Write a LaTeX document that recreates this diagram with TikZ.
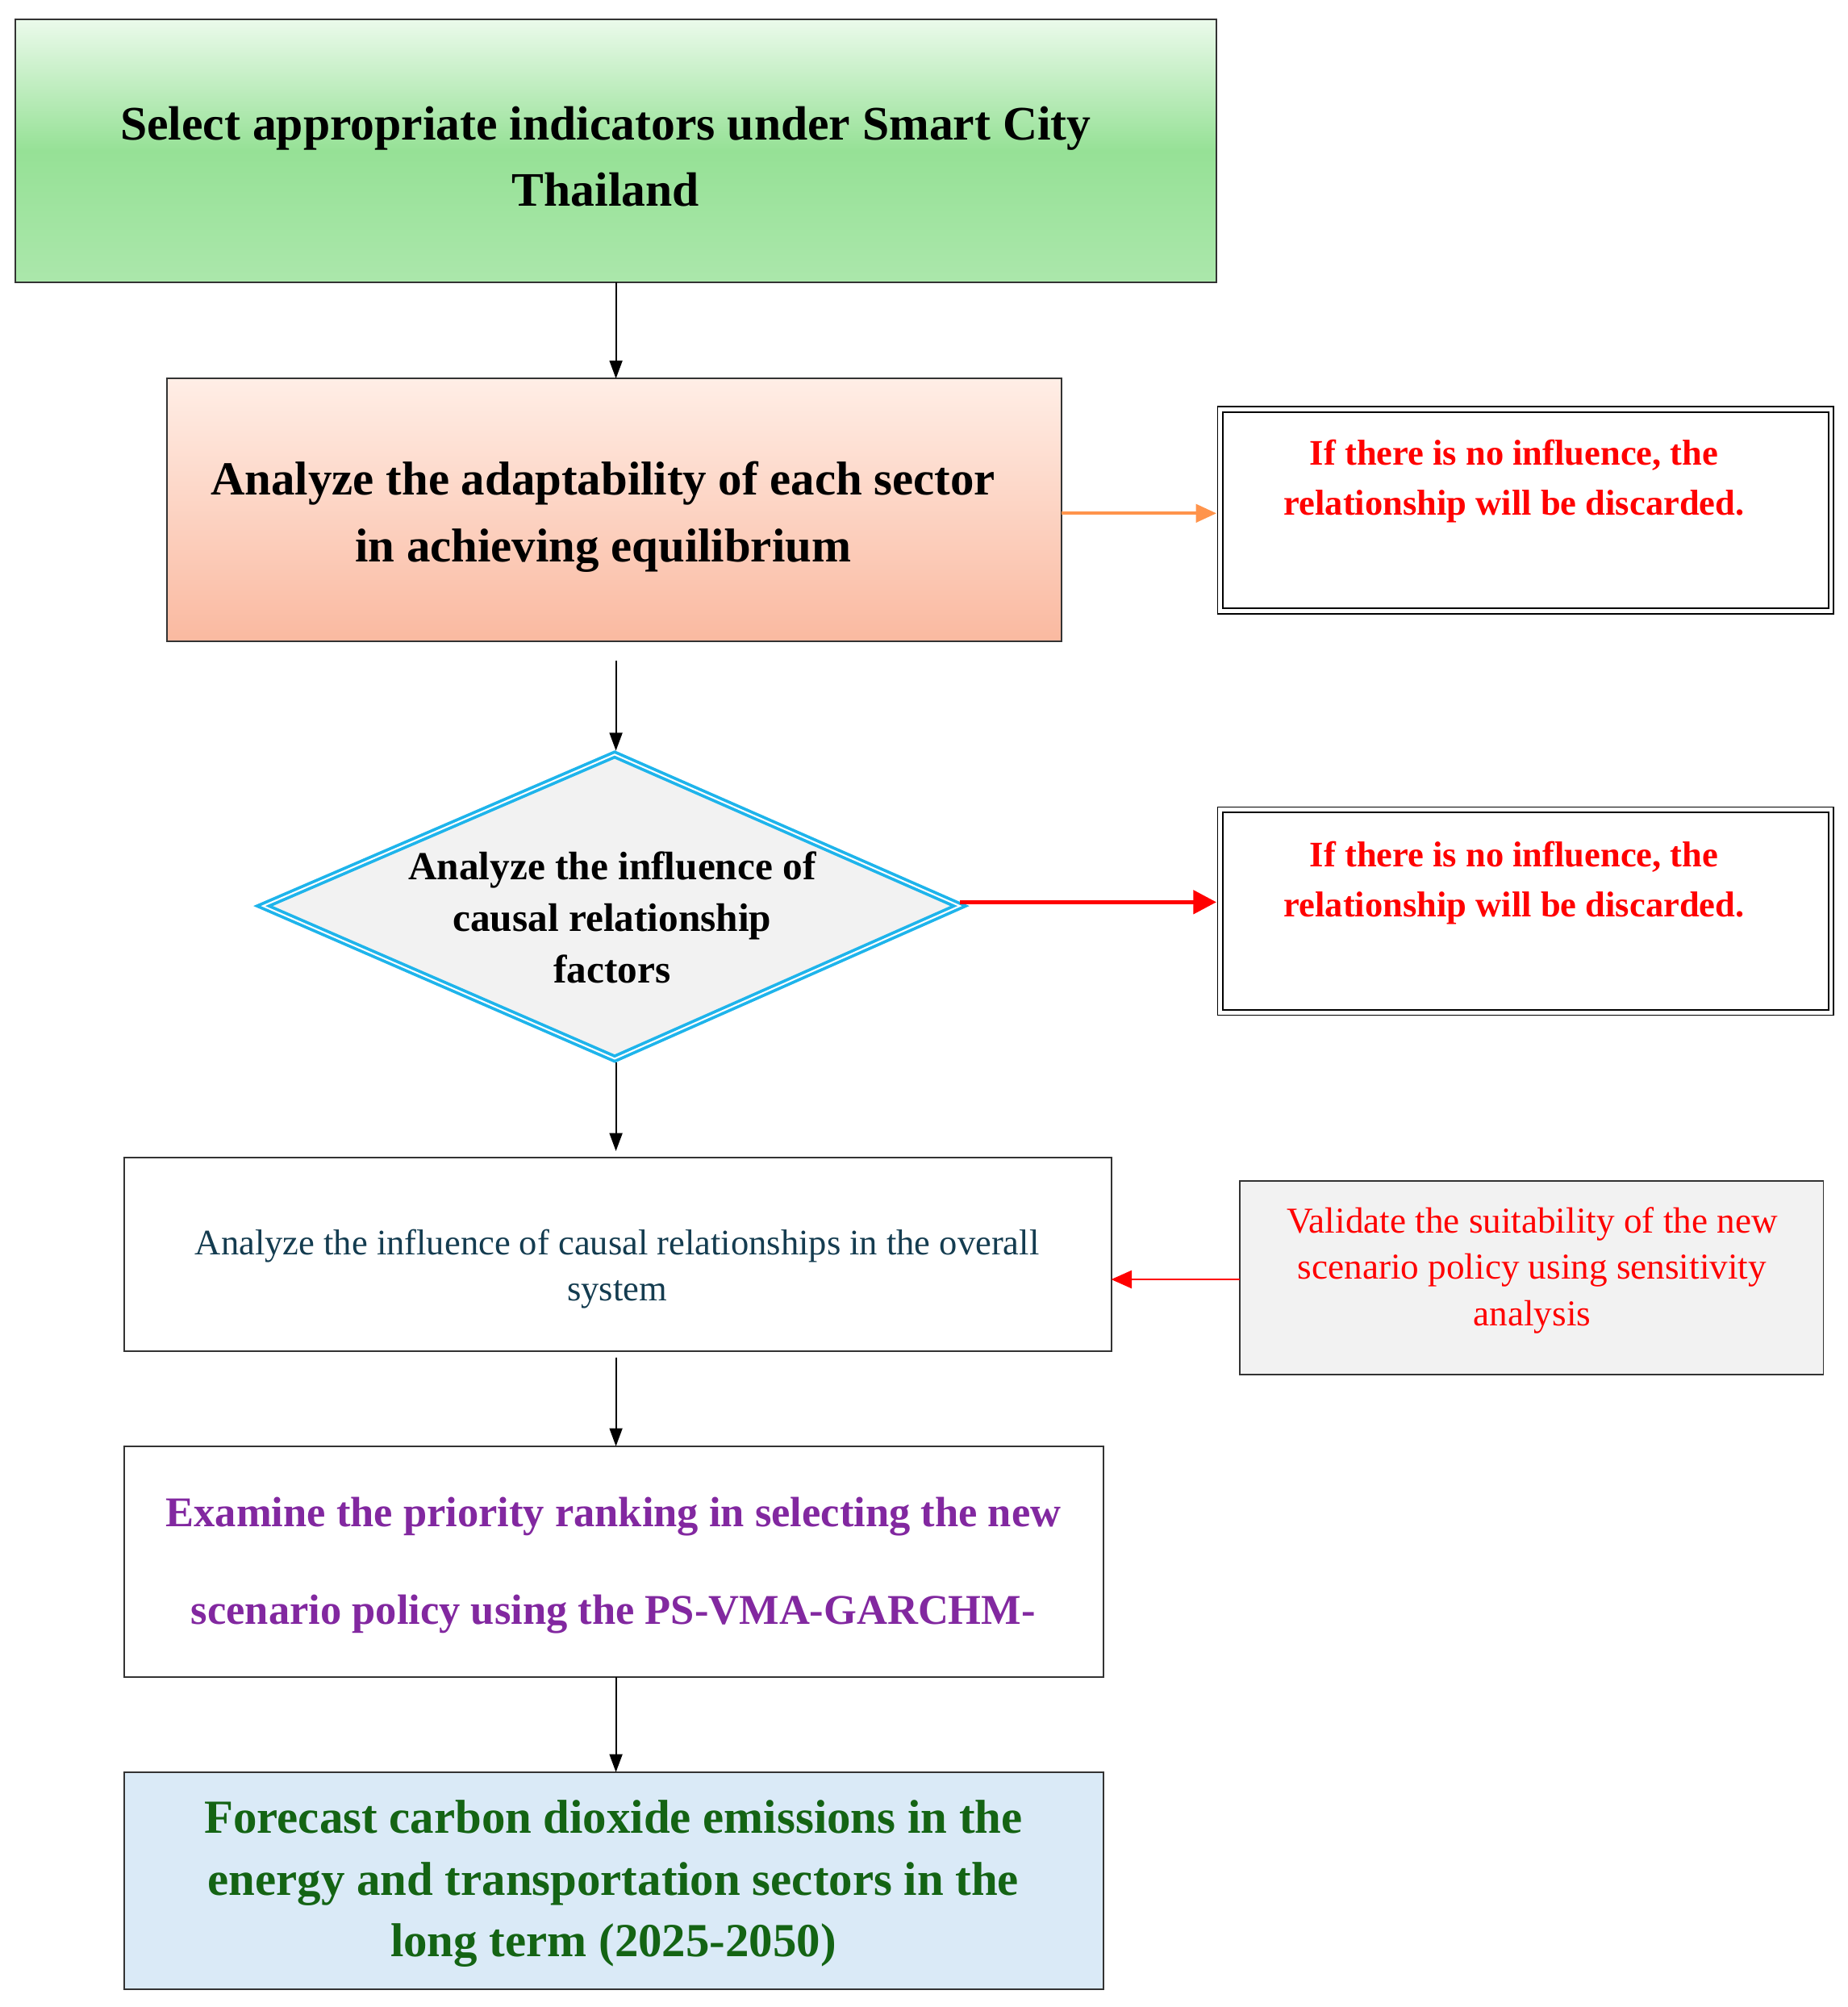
\documentclass[tikz,border=0pt]{standalone}
\usepackage{fontspec}
\setmainfont{Liberation Serif}
\usetikzlibrary{arrows.meta,shapes.geometric}
\definecolor{lblue}{RGB}{218,234,247}
\definecolor{dteal}{RGB}{20,60,80}
\definecolor{purp}{RGB}{130,40,160}
\definecolor{dgreen}{RGB}{20,100,20}
\definecolor{gtop}{RGB}{235,250,235}
\definecolor{gmid}{RGB}{150,225,150}
\definecolor{stop}{RGB}{255,238,230}
\definecolor{sbot}{RGB}{250,185,160}
\definecolor{cyanb}{RGB}{30,180,235}
\begin{document}
\begin{tikzpicture}[x=1pt,y=-1pt,
  box/.style={draw=black!80,line width=1.2pt,inner sep=0},
  arr/.style={-{Triangle[length=14pt,width=10pt]},line width=1.3pt},
  redbox/.style={draw=black,double,double distance=3pt,line width=1.2pt,fill=white}]
\useasboundingbox (0,0) rectangle (1440,1564);
% box1
\shade[top color=gtop,bottom color=gmid!80!white,middle color=gmid] (12,15) rectangle (948,220);
\draw[box] (12,15) rectangle (948,220);
\node[align=center,font=\fontsize{37.5}{52}\selectfont\bfseries] (b1) at (472,122) {Select appropriate indicators under Smart City\\Thailand};
\coordinate (b1s) at (480,220);
% box2
\shade[top color=stop,bottom color=sbot] (130,295) rectangle (827,500);
\draw[box] (130,295) rectangle (827,500);
\node[align=center,font=\fontsize{37}{52}\selectfont\bfseries] (b2) at (470,403) {Analyze the adaptability of each sector\\in achieving equilibrium};
\coordinate (b2n) at (480,295);
\coordinate (b2e) at (827,400);
\coordinate (b2s) at (480,515);
% red box 1
\draw[redbox] (951,319) rectangle (1427,476);
\node[align=center,text=red,font=\fontsize{28}{39}\selectfont\bfseries] (r1) at (1180,375) {If there is no influence, the\\relationship will be discarded.};
\coordinate (r1w) at (948,400);
% diamond
\draw[draw=cyanb,line width=6pt,fill=black!5] (205,706) -- (479,588) -- (748,706) -- (479,825) -- cycle;
\draw[white,line width=1.3pt] (205,706) -- (479,588) -- (748,706) -- (479,825) -- cycle;
\node[align=center,font=\fontsize{31}{40}\selectfont\bfseries] (d) at (477,715) {Analyze the influence of\\causal relationship\\factors};
\coordinate (dn) at (480,585);
\coordinate (de) at (748,703);
\coordinate (ds) at (480,828);
% red box 2
\draw[redbox] (951,631) rectangle (1427,789);
\node[align=center,text=red,font=\fontsize{28}{39}\selectfont\bfseries] (r2) at (1180,688) {If there is no influence, the\\relationship will be discarded.};
\coordinate (r2w) at (948,703);
% box4
\draw[box,fill=white] (97,902) rectangle (866,1053);
\node[align=center,text=dteal,font=\fontsize{28}{36}\selectfont] (b4) at (481,989) {Analyze the influence of causal relationships in the overall\\system};
\coordinate (b4n) at (480,897);
\coordinate (b4e) at (866,997);
\coordinate (b4s) at (480,1058);
% gray box
\draw[box,fill=black!5] (966,920) rectangle (1421,1071);
\node[align=center,text=red,font=\fontsize{28.4}{36}\selectfont] (g) at (1194,990) {Validate the suitability of the new\\scenario policy using sensitivity\\analysis};
\coordinate (gw) at (966,997);
% box5
\draw[box,fill=white] (97,1127) rectangle (860,1307);
\node[align=center,text=purp,font=\fontsize{33}{76}\selectfont\bfseries] (b5) at (478,1220) {Examine the priority ranking in selecting the new\\scenario policy using the PS-VMA-GARCHM-};
\coordinate (b5n) at (480,1127);
\coordinate (b5s) at (480,1307);
% box6
\draw[box,fill=lblue] (97,1381) rectangle (860,1550);
\node[align=center,text=dgreen,font=\fontsize{37}{48}\selectfont\bfseries] (b6) at (478,1468) {Forecast carbon dioxide emissions in the\\energy and transportation sectors in the\\long term (2025-2050)};
\coordinate (b6n) at (480,1381);
% connectors
\draw[arr] (b1s) -- (b2n);
\draw[orange!80!red!70,line width=2.5pt,-{Triangle[length=16pt,width=14pt]}] (b2e) -- (r1w);
\draw[arr] (b2s) -- (dn);
\draw[red,line width=3.5pt,-{Triangle[length=18pt,width=18pt]}] (de) -- (r2w);
\draw[arr] (ds) -- (b4n);
\draw[red,line width=1.2pt,-{Triangle[length=16pt,width=14pt]}] (gw) -- (b4e);
\draw[arr] (b4s) -- (b5n);
\draw[arr] (b5s) -- (b6n);
\end{tikzpicture}
\end{document}
